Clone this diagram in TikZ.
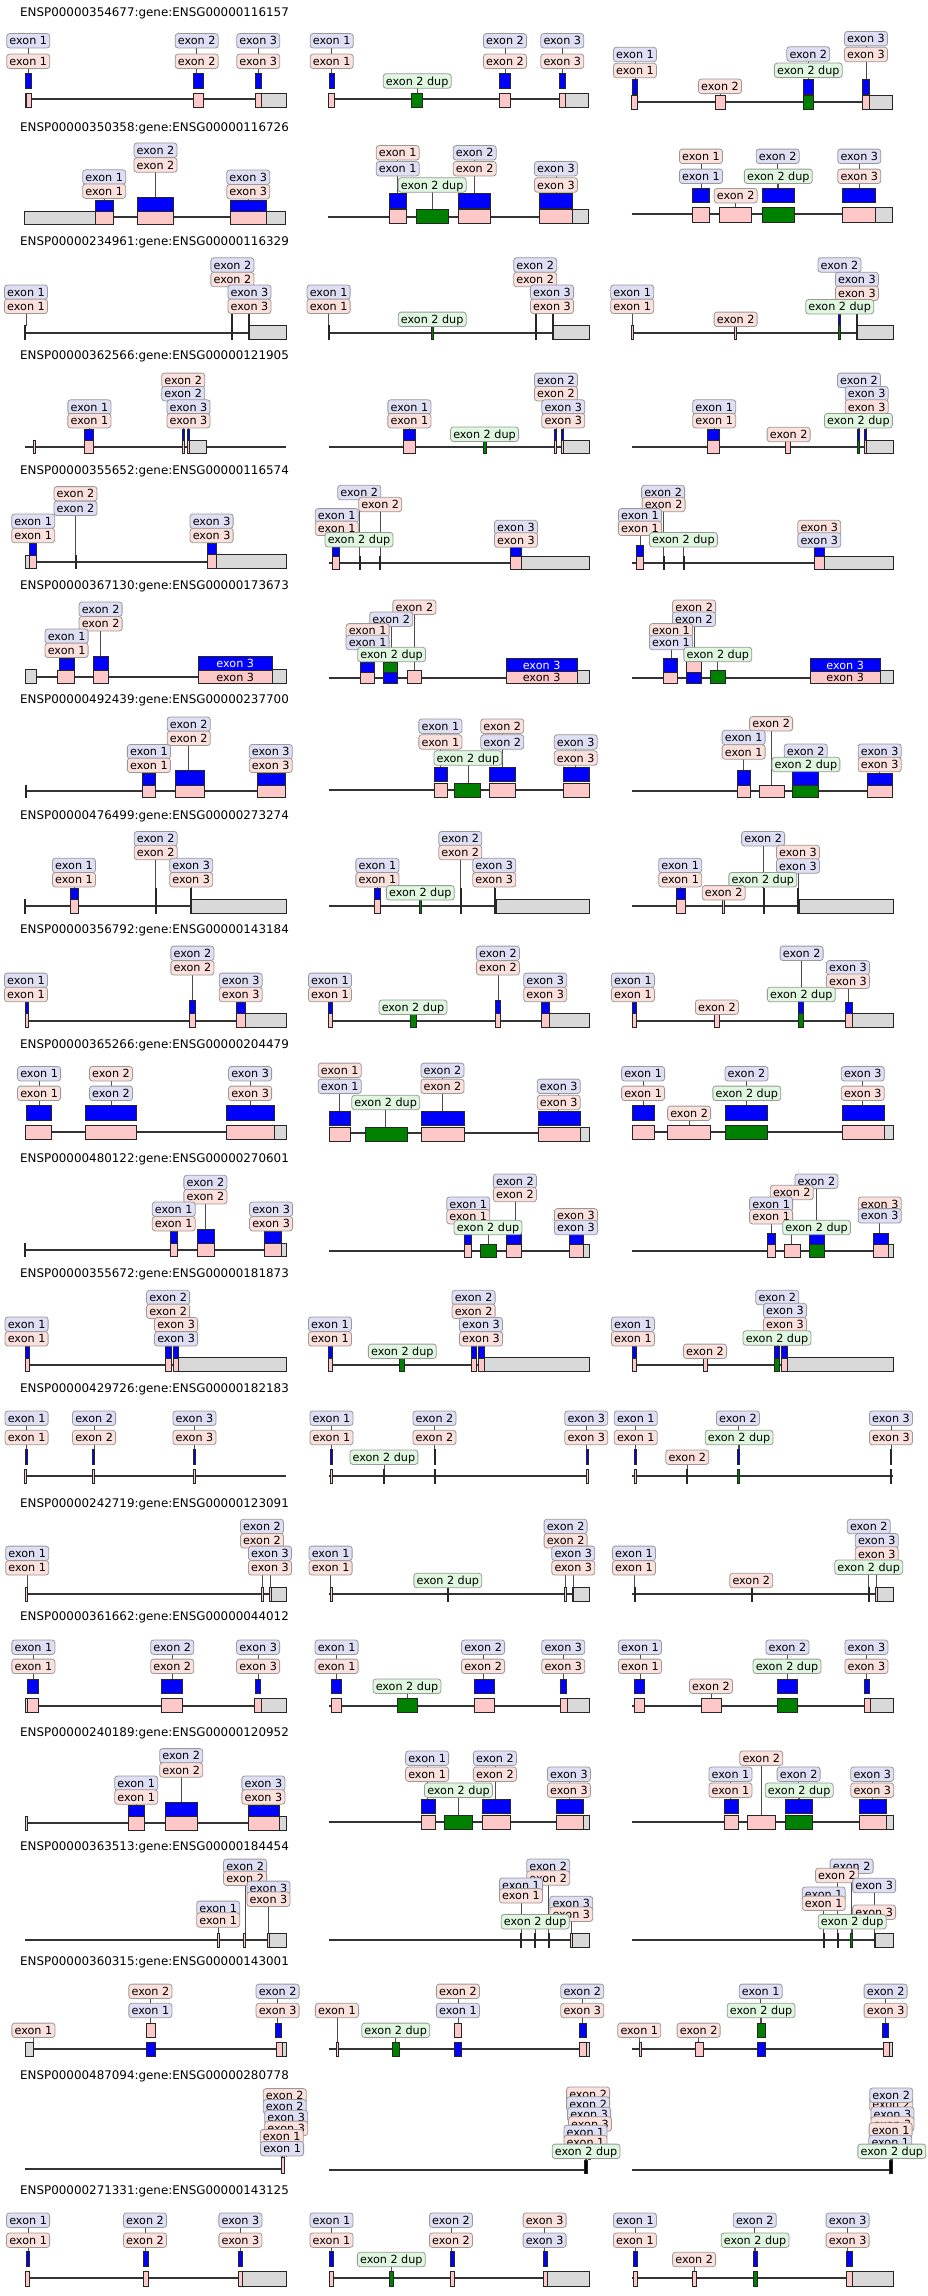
\documentclass[tikz,border=0pt]{standalone}
\usepackage{fontspec}
\setmainfont{DejaVu Sans}
\definecolor{labB}{HTML}{DEDEF5}
\definecolor{labP}{HTML}{FCE0DC}
\definecolor{labG}{HTML}{DEF7DE}
\definecolor{labD}{HTML}{999999}
\definecolor{exP}{HTML}{FFC8C8}
\definecolor{exG}{HTML}{008000}
\definecolor{exB}{HTML}{0000FF}
\definecolor{exY}{HTML}{D9D9D9}
\tikzset{
 lab/.style={draw=labD, rounded corners=2.8pt, line width=0.8pt, inner xsep=2.7pt, inner ysep=3.1pt, text height=8.2pt, text depth=0pt, font=\fontsize{11.2}{13}\selectfont},
 labb/.style={lab, fill=labB},
 labp/.style={lab, fill=labP},
 labg/.style={lab, fill=labG},
 conn/.style={draw=black!70, line width=0.7pt},
 intr/.style={draw=black!80, line width=1.8pt},
 bxs/.style={draw=black!85, line width=0.8pt},
 pk/.style={bxs, fill=exP},
 bl/.style={bxs, fill=exB},
 gn/.style={bxs, fill=exG},
 gy/.style={bxs, fill=exY},
 bk/.style={bxs, fill=black},
 ttl/.style={anchor=west, inner sep=0pt, font=\fontsize{11.9}{14}\selectfont},
 intxt/.style={inner sep=0pt, font=\fontsize{11.2}{13}\selectfont}
}
\newcounter{lbc}
\newcounter{ttc}
\newif\ifbgp
\newcommand\xLB[5]{\stepcounter{lbc}\ifbgp\coordinate (l\arabic{lbc}) at (#2,#3);\coordinate (t\arabic{lbc}) at (#2,#5);\draw[conn] (l\arabic{lbc}) -- (t\arabic{lbc});\else\node[lab#1] (l\arabic{lbc}) at (#2,#3) {exon #4};\fi}
\newcommand\xIN[3]{\ifbgp\draw[intr] (#1,#3) -- (#2,#3);\fi}
\newcommand\xPK[4]{\ifbgp\else\draw[pk] (#1,#3) rectangle (#2,#4);\fi}
\newcommand\xBL[4]{\ifbgp\else\draw[bl] (#1,#3) rectangle (#2,#4);\fi}
\newcommand\xGN[4]{\ifbgp\else\draw[gn] (#1,#3) rectangle (#2,#4);\fi}
\newcommand\xGY[4]{\ifbgp\else\draw[gy] (#1,#3) rectangle (#2,#4);\fi}
\newcommand\xBK[4]{\ifbgp\else\draw[bk] (#1,#3) rectangle (#2,#4);\fi}
\newcommand\xTT[2]{\ifbgp\else\stepcounter{ttc}\node[ttl] (h\arabic{ttc}) at (20,#1) {#2};\fi}
\newcommand\xIT[4]{\ifbgp\else\node[intxt, text=#4] (#1) at (#2,#3) {exon 3};\fi}
\newcommand\allrows{%
% ---------- Row 1
\xTT{13.3}{ENSP00000354677:gene:ENSG00000116157}
\xIN{25}{262}{99.3}
\xGY{25}{26.5}{93.3}{107.3}\xPK{26.5}{31.7}{93.3}{107.3}\xBL{25.7}{31}{73.3}{88.3}
\xPK{193.3}{203.3}{93.3}{107.3}\xBL{193.3}{203.3}{73.3}{88.3}
\xPK{255}{261.7}{93.3}{107.3}\xGY{261.7}{286}{93.3}{107.3}\xBL{255}{261.7}{73.3}{88.3}
\xLB{b}{28.3}{40.8}{1}{73.3}\xLB{p}{28.3}{61.3}{1}{73.3}
\xLB{b}{196.7}{40.8}{2}{73.3}\xLB{p}{196.7}{61.3}{2}{73.3}
\xLB{b}{258.3}{40.8}{3}{73.3}\xLB{p}{258.3}{61.3}{3}{73.3}
\xIN{328.3}{566}{99.3}
\xPK{328.3}{334.3}{93.3}{107.3}\xBL{329}{334.3}{73.3}{88.3}
\xGN{411.7}{422.3}{93.3}{107.3}
\xPK{499.3}{510}{93.3}{107.3}\xBL{499.3}{510}{73.3}{88.3}
\xPK{559.3}{565.7}{93.3}{107.3}\xGY{565.7}{588.7}{93.3}{107.3}\xBL{559.3}{565.7}{73.3}{88.3}
\xLB{b}{331.7}{40.8}{1}{73.3}\xLB{p}{331.7}{61.3}{1}{73.3}
\xLB{b}{505}{40.8}{2}{73.3}\xLB{p}{505}{61.3}{2}{73.3}
\xLB{b}{562.3}{40.8}{3}{73.3}\xLB{p}{562.3}{61.3}{3}{73.3}
\xLB{g}{417.2}{81}{2 dup}{93.3}
\xIN{631.7}{863}{101.7}
\xPK{631.7}{637.7}{95.3}{109.3}\xBL{632.3}{637.7}{79}{94}
\xPK{715}{725}{95.3}{109.3}
\xGN{803.3}{813.3}{95.3}{109.3}\xBL{803.3}{813.3}{79}{94}
\xPK{862.7}{869}{95.3}{109.3}\xGY{869}{892.7}{95.3}{109.3}\xBL{862.7}{869}{79}{94}
\xLB{b}{635}{54.5}{1}{79}\xLB{p}{635}{70.5}{1}{79}
\xLB{p}{720}{86.3}{2}{95.3}
\xLB{b}{808.3}{54}{2}{79}\xLB{g}{808.3}{70.3}{2 dup}{79}
\xLB{b}{866}{38.7}{3}{79}\xLB{p}{866}{54.5}{3}{79}
% ---------- Row 2
\xTT{128}{ENSP00000350358:gene:ENSG00000116726}
\xIN{24.3}{285.7}{217.3}
\xGY{24.3}{95.7}{211}{224}\xPK{95.7}{113.3}{211}{224}\xBL{95.7}{113.3}{200}{211}
\xPK{137.7}{173.3}{211}{224}\xBL{137.7}{173.3}{197}{211}
\xPK{230}{266.7}{211}{224}\xGY{266.7}{285.7}{211}{224}\xBL{230}{266.7}{200}{211}
\xLB{b}{104.2}{177}{1}{200}\xLB{p}{104.2}{191.2}{1}{200}
\xLB{b}{155.5}{150.2}{2}{197}\xLB{p}{155.5}{165}{2}{197}
\xLB{b}{248.3}{177.2}{3}{200}\xLB{p}{248.3}{191.7}{3}{200}
\xIN{328.3}{588.7}{216.7}
\xPK{389.3}{406}{209.3}{223.7}\xBL{389.3}{406}{193.7}{208.3}
\xGN{416}{448.3}{209.3}{223.7}
\xPK{458.7}{490.7}{209.3}{223.7}\xBL{458.7}{490.7}{193.7}{208.3}
\xPK{539.3}{572.7}{209.3}{223.7}\xGY{572.7}{588.7}{209.3}{223.7}\xBL{539.3}{572.7}{193.7}{208.3}
\xLB{p}{397.7}{152.8}{1}{193.7}\xLB{b}{397.7}{168.7}{1}{193.7}
\xLB{b}{474.7}{152.8}{2}{193.7}\xLB{p}{474.7}{168.7}{2}{193.7}
\xLB{b}{556}{168.7}{3}{193.7}\xLB{p}{556}{185}{3}{193.7}
\xLB{g}{432.2}{185}{2 dup}{209.3}
\xIN{631.7}{892.7}{214.3}
\xPK{692.7}{709}{207.7}{222.3}\xBL{692.7}{709}{188.3}{202.3}
\xPK{719.3}{751.7}{207.7}{222.3}
\xGN{762.3}{794}{207.7}{222.3}\xBL{762.3}{794}{188.3}{202.3}
\xPK{842.7}{875.7}{207.7}{222.3}\xGY{875.7}{892.7}{207.7}{222.3}\xBL{842.7}{875.7}{188.3}{202.3}
\xLB{p}{701}{156.3}{1}{188.3}\xLB{b}{701}{176.3}{1}{188.3}
\xLB{b}{777.7}{156.3}{2}{188.3}\xLB{g}{778.3}{176.3}{2 dup}{188.3}
\xLB{p}{735.7}{195.7}{2}{207.7}
\xLB{b}{859.3}{156.3}{3}{188.3}\xLB{p}{859.3}{176.3}{3}{188.3}
% ---------- Row 3
\xTT{242.7}{ENSP00000234961:gene:ENSG00000116329}
\xIN{24.9}{286}{332.7}
\xPK{24.2}{25.6}{325.7}{339.7}
\xPK{231.3}{232.7}{325.7}{339.7}\xBL{231.3}{232.7}{314.7}{325.7}
\xPK{248.5}{249.8}{325.7}{339.7}\xGY{249.8}{286}{325.7}{339.7}\xBL{248.5}{249.8}{314.7}{325.7}
\xLB{b}{26}{292.2}{1}{325.7}\xLB{p}{26}{306.3}{1}{325.7}
\xLB{b}{232.4}{265}{2}{314.7}\xLB{p}{232.4}{279.5}{2}{314.7}
\xLB{b}{249.5}{292.2}{3}{314.7}\xLB{p}{249.5}{306.3}{3}{314.7}
\xIN{328.6}{589}{332.7}
\xPK{328.3}{329.7}{325.7}{339.7}
\xGN{431.5}{433}{325.7}{339.7}
\xPK{535.1}{536.5}{325.7}{339.7}\xBL{535.1}{536.5}{314.7}{325.7}
\xPK{552.3}{553.7}{325.7}{339.7}\xGY{553.7}{589}{325.7}{339.7}\xBL{552.3}{553.7}{314.7}{325.7}
\xLB{b}{328.6}{292.2}{1}{325.7}\xLB{p}{328.6}{306.3}{1}{325.7}
\xLB{b}{535.2}{265}{2}{314.7}\xLB{p}{535.2}{279.5}{2}{314.7}
\xLB{b}{552}{292.2}{3}{314.7}\xLB{p}{552}{306.3}{3}{314.7}
\xLB{g}{432.2}{319.3}{2 dup}{325.7}
\xIN{632.2}{893}{332.7}
\xPK{631.8}{633.2}{325.7}{339.7}
\xPK{734.6}{736}{325.7}{339.7}
\xGN{838.8}{840.2}{325.7}{339.7}\xBL{838.8}{840.2}{314.7}{325.7}
\xPK{855.9}{857.3}{325.7}{339.7}\xGY{857.3}{893}{325.7}{339.7}\xBL{855.9}{857.3}{314.7}{325.7}
\xLB{b}{632.2}{292.2}{1}{325.7}\xLB{p}{632.2}{306.3}{1}{325.7}
\xLB{p}{735.6}{319.3}{2}{325.7}
\xLB{b}{839.5}{265}{2}{314.7}
\xLB{b}{856.9}{279.5}{3}{314.7}\xLB{p}{856.9}{293.3}{3}{314.7}
\xLB{g}{839.7}{306.7}{2 dup}{314.7}
% ---------- Row 4
\xTT{356.7}{ENSP00000362566:gene:ENSG00000121905}
\xIN{24.9}{286}{446.7}
\xPK{33.6}{35}{440}{453.3}
\xPK{84.7}{93.5}{440}{453.3}\xBL{84.7}{93.5}{429}{440}
\xPK{182.8}{184.2}{440}{453.3}\xBL{182.8}{184.2}{429}{440}
\xPK{187.6}{189}{440}{453.3}\xGY{189}{206}{440}{453.3}\xBL{187.6}{189}{429}{440}
\xLB{b}{89.4}{407}{1}{429}\xLB{p}{89.4}{420.7}{1}{429}
\xLB{p}{183.2}{380.3}{2}{429}\xLB{b}{183.2}{393.7}{2}{429}
\xLB{b}{188.5}{407}{3}{429}\xLB{p}{188.5}{420.7}{3}{429}
\xIN{328.6}{589}{446.7}
\xPK{403.7}{415.6}{440}{453.3}\xBL{403.7}{415.6}{429}{440}
\xGN{483}{486}{440}{453.3}
\xPK{554.6}{556}{440}{453.3}\xBL{554.6}{556}{429}{440}
\xPK{561.7}{563.1}{440}{453.3}\xGY{563.1}{589}{440}{453.3}\xBL{561.7}{563.1}{429}{440}
\xLB{b}{409.4}{407}{1}{429}\xLB{p}{409.4}{420.7}{1}{429}
\xLB{g}{484.5}{434.2}{2 dup}{440}
\xLB{b}{556}{380.3}{2}{429}\xLB{p}{556}{393.7}{2}{429}
\xLB{b}{563.3}{407}{3}{429}\xLB{p}{563.3}{420.7}{3}{429}
\xIN{632.2}{893}{446.7}
\xPK{707.4}{719.3}{440}{453.3}\xBL{707.4}{719.3}{429}{440}
\xPK{785.6}{790.3}{440}{453.3}
\xGN{857.7}{859.1}{440}{453.3}\xBL{857.7}{859.1}{429}{440}
\xPK{864.8}{866.2}{440}{453.3}\xGY{866.2}{893}{440}{453.3}\xBL{864.8}{866.2}{429}{440}
\xLB{b}{714.2}{407}{1}{429}\xLB{p}{714.2}{420.7}{1}{429}
\xLB{p}{788.6}{434.5}{2}{440}
\xLB{b}{859}{380.3}{2}{429}
\xLB{b}{866.7}{393.7}{3}{429}\xLB{p}{866.7}{407}{3}{429}
\xLB{g}{858.4}{420.7}{2 dup}{429}
% ---------- Row 5
\xTT{471.7}{ENSP00000355652:gene:ENSG00000116574}
\xIN{24.9}{286}{561.7}
\xGY{24.9}{29.6}{555}{568.3}\xPK{29.6}{36.7}{555}{568.3}\xBL{29.6}{36.7}{543.3}{555}
\xPK{75.1}{76.5}{555}{568.3}
\xPK{207.2}{216.7}{554.3}{568.3}\xGY{216.7}{286}{554.3}{568.3}\xBL{207.2}{216.7}{543.3}{554.3}
\xLB{b}{33.2}{521.2}{1}{543.3}\xLB{p}{33.2}{535.5}{1}{543.3}
\xLB{p}{75.5}{493.8}{2}{555}\xLB{b}{75.5}{508.3}{2}{555}
\xLB{b}{211.6}{521.2}{3}{543.3}\xLB{p}{211.6}{535.5}{3}{543.3}
\xIN{328.6}{589}{562.7}
\xPK{332.7}{339.8}{556}{569.5}\xBL{332.7}{339.8}{545}{556}
\xGN{359.3}{360.7}{556}{569.5}
\xPK{379.3}{380.7}{556}{569.5}
\xPK{510.3}{521}{556}{569.5}\xGY{521}{589}{556}{569.5}\xBL{510.3}{521}{545}{556}
\xLB{b}{359.3}{492.5}{2}{556}\xLB{p}{380.3}{504.5}{2}{556}
\xLB{b}{336.8}{515.8}{1}{545}\xLB{p}{336.8}{528.3}{1}{545}
\xLB{g}{359}{539.7}{2 dup}{556}
\xLB{b}{516}{527.5}{3}{545}\xLB{p}{516}{540}{3}{545}
\xIN{632.2}{893}{562.7}
\xPK{636.4}{643.5}{556}{569.5}\xBL{636.4}{643.5}{545}{556}
\xPK{662.9}{664.3}{556}{569.5}
\xGN{683.1}{684.5}{556}{569.5}
\xPK{814}{824.7}{556}{569.5}\xGY{824.7}{893}{556}{569.5}\xBL{814}{824.7}{545}{556}
\xLB{b}{663.1}{492.5}{2}{556}\xLB{p}{663.6}{504.5}{2}{556}
\xLB{b}{640}{515.8}{1}{545}\xLB{p}{640}{528.3}{1}{545}
\xLB{g}{683.4}{539.7}{2 dup}{556}
\xLB{p}{819.3}{527.5}{3}{545}\xLB{b}{819.3}{540}{3}{545}
% ---------- Row 6
\xTT{586.7}{ENSP00000367130:gene:ENSG00000173673}
\xIN{24.9}{286}{676.7}
\xGY{24.9}{36.7}{669.3}{683.3}
\xPK{57.4}{74.6}{670}{683.3}\xBL{59.2}{74.6}{658.3}{670}
\xPK{93}{108.3}{670}{683.3}\xBL{93}{108.3}{656}{670}
\xPK{198.3}{272.3}{670}{683.3}\xGY{272.3}{286}{669.3}{683.3}\xBL{198.3}{272.3}{656}{670}
\xIT{in1}{235.3}{663}{white}\xIT{in2}{235.3}{677}{black}
\xLB{b}{100.6}{609.2}{2}{656}\xLB{p}{100.6}{623.7}{2}{656}
\xLB{b}{66.6}{636.2}{1}{658.3}\xLB{p}{66.6}{650.3}{1}{658.3}
\xIN{328.6}{589}{677.7}
\xPK{360}{374.7}{672.7}{683.3}\xBL{360}{374.7}{662.7}{672.7}
\xGN{383.6}{397.8}{662.7}{672.7}\xBL{383.6}{397.8}{672.7}{683.3}
\xPK{407.3}{421.5}{670.7}{683.3}
\xPK{506}{577.2}{671.7}{683.3}\xBL{506}{577.2}{658.7}{671.7}\xGY{577.2}{589}{670}{683.3}
\xIT{in3}{541.6}{665.2}{white}\xIT{in4}{541.6}{677.8}{black}
\xLB{p}{414.4}{607.2}{2}{670.7}
\xLB{b}{391.2}{619.2}{2}{662.7}
\xLB{p}{367.6}{630.8}{1}{662.7}\xLB{b}{367.6}{642.5}{1}{662.7}
\xLB{g}{391.6}{654.5}{2 dup}{662.7}
\xIN{632.2}{893}{677.7}
\xPK{663}{677.8}{672.7}{683.3}\xBL{663}{677.8}{658.3}{672.7}
\xPK{686.7}{701.5}{661.7}{672.7}\xBL{686.7}{701.5}{672.7}{683.3}
\xGN{710.4}{725.2}{670}{683.3}
\xPK{809.9}{880.3}{671.7}{683.3}\xBL{809.9}{880.3}{658.7}{671.7}\xGY{880.3}{893}{670}{683.3}
\xIT{in5}{845.1}{665.2}{white}\xIT{in6}{845.1}{677.8}{black}
\xLB{p}{694.1}{607.2}{2}{661.7}
\xLB{b}{694}{619.2}{2}{661.7}
\xLB{p}{671}{630.8}{1}{658.3}\xLB{b}{671}{642.5}{1}{658.3}
\xLB{g}{717.8}{654.5}{2 dup}{670}
% ---------- Row 7
\xTT{700.7}{ENSP00000492439:gene:ENSG00000237700}
\xIN{24.9}{286}{790.7}
\xPK{24.9}{26.6}{785}{797.3}
\xPK{142}{155.7}{785}{797.7}\xBL{142}{155.7}{773.3}{785}
\xPK{175.8}{204.2}{785}{797.7}\xBL{175.8}{204.2}{770.7}{785}
\xPK{257.5}{285.3}{785}{797.7}\xBL{257.5}{285.3}{773.3}{785}
\xLB{b}{188.8}{724.2}{2}{770.7}\xLB{p}{188.8}{738.3}{2}{770.7}
\xLB{b}{148.9}{751.7}{1}{773.3}\xLB{p}{148.9}{765.3}{1}{773.3}
\xLB{b}{270.8}{751.7}{3}{773.3}\xLB{p}{270.8}{765.3}{3}{773.3}
\xIN{328.6}{589}{790}
\xPK{433.9}{447}{783.3}{797.3}\xBL{433.9}{447}{767.3}{781.7}
\xGN{454.7}{480.7}{783.3}{797.3}
\xPK{489.6}{515}{783.3}{797.3}\xBL{489.6}{515}{767.3}{781.7}
\xPK{563.6}{589}{783.3}{797.3}\xBL{563.6}{589}{767.3}{781.7}
\xLB{b}{440.4}{726.2}{1}{767.3}\xLB{p}{440.4}{742}{1}{767.3}
\xLB{p}{502.3}{726.2}{2}{767.3}\xLB{b}{502.3}{742}{2}{767.3}
\xLB{g}{467.9}{758}{2 dup}{783.3}
\xLB{b}{575.7}{742}{3}{767.3}\xLB{p}{575.7}{758}{3}{767.3}
\xIN{632.2}{893}{790.7}
\xPK{737}{750}{785}{797.7}\xBL{737}{750}{770.7}{785}
\xPK{759}{784.4}{785}{797.7}
\xGN{792}{818.7}{785}{797.7}\xBL{792}{818.7}{770.7}{785}
\xPK{867.3}{892}{785}{797.7}\xBL{867.3}{892}{773.3}{785}
\xLB{p}{771.1}{723.8}{2}{785}
\xLB{b}{743.6}{737.5}{1}{770.7}\xLB{p}{743.6}{752}{1}{770.7}
\xLB{b}{805.7}{751.2}{2}{770.7}\xLB{g}{805.9}{764.5}{2 dup}{770.7}
\xLB{b}{879.7}{751.2}{3}{773.3}\xLB{p}{879.7}{764.5}{3}{773.3}
% ---------- Row 8
\xTT{816}{ENSP00000476499:gene:ENSG00000273274}
\xIN{24.9}{286}{906}
\xPK{24.2}{25.6}{899.3}{913}
\xPK{69.9}{78.1}{899.3}{913}\xBL{69.9}{78.1}{888.3}{899.3}
\xPK{155}{156.4}{899.3}{913}\xBL{155}{156.4}{888.3}{899.3}
\xPK{189.9}{191.3}{899.3}{913}\xBL{189.9}{191.3}{888.3}{899.3}\xGY{191.5}{286}{899.3}{913}
\xLB{b}{74}{865.5}{1}{888.3}\xLB{p}{74}{879.7}{1}{888.3}
\xLB{b}{155.7}{838.7}{2}{888.3}\xLB{p}{155.7}{852.5}{2}{888.3}
\xLB{b}{191.2}{865.5}{3}{888.3}\xLB{p}{191.2}{879.7}{3}{888.3}
\xIN{328.6}{589}{906}
\xPK{374}{380}{899.3}{913}\xBL{374}{380}{888.3}{899.3}
\xGN{419.6}{421}{899.3}{913}
\xPK{459.9}{461.3}{899.3}{913}\xBL{459.9}{461.3}{888.3}{899.3}
\xPK{494.3}{495.7}{899.3}{913}\xBL{494.3}{495.7}{888.3}{899.3}\xGY{496}{589}{899.3}{913}
\xLB{b}{377.4}{865.5}{1}{888.3}\xLB{p}{377.4}{879.7}{1}{888.3}
\xLB{b}{460.3}{838.7}{2}{888.3}\xLB{p}{460.3}{852.5}{2}{888.3}
\xLB{b}{494.3}{865.5}{3}{888.3}\xLB{p}{494.3}{879.7}{3}{888.3}
\xLB{g}{420.3}{892.8}{2 dup}{899.3}
\xIN{632.2}{893}{906}
\xPK{676.6}{684.9}{899.3}{913}\xBL{676.6}{684.9}{888.3}{899.3}
\xPK{722.7}{724.1}{899.3}{913}
\xGN{763}{764.4}{899.3}{913}\xBL{763}{764.4}{888.3}{899.3}
\xPK{797.3}{798.7}{899.3}{913}\xBL{797.3}{798.7}{888.3}{899.3}\xGY{799.2}{893}{899.3}{913}
\xLB{b}{680.2}{865.5}{1}{888.3}\xLB{p}{680.2}{879.7}{1}{888.3}
\xLB{b}{763.1}{838.7}{2}{888.3}
\xLB{p}{798}{852.5}{3}{888.3}\xLB{b}{798}{866}{3}{888.3}
\xLB{g}{762.8}{879.7}{2 dup}{888.3}
\xLB{p}{723.7}{892.8}{2}{899.3}
% ---------- Row 9
\xTT{930}{ENSP00000356792:gene:ENSG00000143184}
\xIN{24.9}{286}{1020.7}
\xPK{24.9}{28.4}{1013.3}{1027.3}\xBL{24.9}{28.4}{1002.3}{1013.3}
\xPK{189.4}{195.4}{1013.3}{1027.3}\xBL{189.4}{195.4}{1000}{1013.3}
\xPK{236.8}{245.1}{1013.3}{1027.3}\xGY{245.1}{286}{1013.3}{1027.3}\xBL{236.8}{245.1}{1002.3}{1013.3}
\xLB{b}{26}{980.3}{1}{1002.3}\xLB{p}{26}{994.5}{1}{1002.3}
\xLB{b}{192.4}{953.3}{2}{1000}\xLB{p}{192.4}{967.8}{2}{1000}
\xLB{b}{240.7}{980.3}{3}{1002.3}\xLB{p}{240.7}{994.5}{3}{1002.3}
\xIN{328.6}{589}{1020.7}
\xPK{328.6}{332.7}{1013.3}{1027.3}\xBL{328.6}{332.7}{1002.3}{1013.3}
\xGN{410.3}{416.2}{1013.3}{1027.3}
\xPK{495.5}{500.2}{1013.3}{1027.3}\xBL{495.5}{500.2}{1000}{1013.3}
\xPK{541.7}{549.4}{1013.3}{1027.3}\xGY{549.4}{589}{1013.3}{1027.3}\xBL{541.7}{549.4}{1002.3}{1013.3}
\xLB{b}{330}{980.3}{1}{1002.3}\xLB{p}{330}{994.5}{1}{1002.3}
\xLB{b}{497.9}{953.3}{2}{1000}\xLB{p}{497.9}{967.8}{2}{1000}
\xLB{b}{545.2}{980.3}{3}{1002.3}\xLB{p}{545.2}{994.5}{3}{1002.3}
\xLB{g}{413}{1007.2}{2 dup}{1013.3}
\xIN{632.2}{893}{1020.7}
\xPK{632.2}{636.4}{1013.3}{1027.3}\xBL{632.2}{636.4}{1002.3}{1013.3}
\xPK{714.5}{719.3}{1013.3}{1027.3}
\xGN{798}{803.3}{1013.3}{1027.3}\xBL{798}{803.3}{1000}{1013.3}
\xPK{845.4}{852.5}{1013.3}{1027.3}\xGY{852.5}{893}{1013.3}{1027.3}\xBL{845.4}{852.5}{1002.3}{1013.3}
\xLB{b}{632.9}{980.3}{1}{1002.3}\xLB{p}{632.9}{994.5}{1}{1002.3}
\xLB{b}{801.6}{953.3}{2}{1000}
\xLB{b}{848}{967.8}{3}{1002.3}\xLB{p}{848}{981.2}{3}{1002.3}
\xLB{g}{801.3}{994.5}{2 dup}{1000}
\xLB{p}{716.9}{1007.2}{2}{1013.3}
% ---------- Row 10
\xTT{1045}{ENSP00000365266:gene:ENSG00000204479}
\xIN{24.9}{286}{1131.7}
\xPK{24.9}{51.5}{1125.7}{1139.3}\xBL{26.6}{51.5}{1105.7}{1120}
\xPK{85.8}{136.2}{1125.7}{1139.3}\xBL{85.8}{136.2}{1105.7}{1120}
\xPK{226.1}{274.1}{1125.7}{1139.3}\xGY{274.1}{286}{1125.7}{1139.3}\xBL{226.1}{274.1}{1105.7}{1120}
\xLB{b}{39.1}{1073.7}{1}{1105.7}\xLB{p}{39.1}{1093.3}{1}{1105.7}
\xLB{p}{111}{1073.7}{2}{1105.7}\xLB{b}{111}{1093.3}{2}{1105.7}
\xLB{b}{250.1}{1073.7}{3}{1105.7}\xLB{p}{250.1}{1093.3}{3}{1105.7}
\xIN{328.6}{589}{1133.3}
\xPK{329.7}{350.5}{1127.3}{1141.7}\xBL{329.7}{350.5}{1111}{1125.7}
\xGN{365.3}{407.3}{1127.3}{1141.7}
\xPK{421.5}{464.7}{1127.3}{1141.7}\xBL{421.5}{464.7}{1111}{1125.7}
\xPK{538.7}{580.2}{1127.3}{1141.7}\xGY{580.2}{589}{1127.3}{1141.7}\xBL{538.7}{580.2}{1111}{1125.7}
\xLB{p}{339.8}{1070.3}{1}{1111}\xLB{b}{339.8}{1086.3}{1}{1111}
\xLB{b}{442.5}{1070.3}{2}{1111}\xLB{p}{442.5}{1086.3}{2}{1111}
\xLB{g}{385.7}{1102.5}{2 dup}{1127.3}
\xLB{b}{558.8}{1086.3}{3}{1111}\xLB{p}{558.8}{1102.5}{3}{1111}
\xIN{632.2}{893}{1131.7}
\xPK{632.2}{654.2}{1125.7}{1139.3}\xBL{632.2}{654.2}{1105.7}{1120}
\xPK{667.8}{710.4}{1125.7}{1139.3}
\xGN{725.2}{767.8}{1125.7}{1139.3}\xBL{725.2}{767.8}{1105.7}{1120}
\xPK{842.4}{883.9}{1125.7}{1139.3}\xGY{883.9}{893}{1125.7}{1139.3}\xBL{842.4}{883.9}{1105.7}{1120}
\xLB{b}{643.1}{1073.7}{1}{1105.7}\xLB{p}{643.1}{1093.3}{1}{1105.7}
\xLB{b}{746.5}{1073.7}{2}{1105.7}\xLB{g}{746.8}{1093.3}{2 dup}{1105.7}
\xLB{p}{689.1}{1113.3}{2}{1125.7}
\xLB{b}{862.8}{1073.7}{3}{1105.7}\xLB{p}{862.8}{1093.3}{3}{1105.7}
% ---------- Row 11
\xTT{1159.3}{ENSP00000480122:gene:ENSG00000270601}
\xIN{24.9}{286}{1250}
\xPK{24.2}{25.6}{1243.3}{1256.7}
\xPK{169.9}{177.6}{1243.3}{1256.7}\xBL{169.9}{177.6}{1231.7}{1243.3}
\xPK{197.1}{214.3}{1243.3}{1256.7}\xBL{197.1}{214.3}{1229}{1243.3}
\xPK{264.6}{281.2}{1243.3}{1256.7}\xGY{281.2}{286}{1243.3}{1256.7}\xBL{264.6}{281.2}{1231.7}{1243.3}
\xLB{b}{205.4}{1182.5}{2}{1229}\xLB{p}{205.4}{1196.7}{2}{1229}
\xLB{b}{173.7}{1209.2}{1}{1231.7}\xLB{p}{173.7}{1223.7}{1}{1231.7}
\xLB{b}{271.1}{1209.2}{3}{1231.7}\xLB{p}{271.1}{1223.7}{3}{1231.7}
\xIN{328.6}{589}{1251}
\xPK{464.7}{471.8}{1244}{1257.7}\xBL{464.7}{471.8}{1233}{1244}
\xGN{480.7}{496.1}{1244}{1257.7}
\xPK{506.2}{521}{1244}{1257.7}\xBL{506.2}{521}{1233}{1244}
\xPK{569.5}{583.1}{1244}{1257.7}\xGY{583.1}{589}{1244}{1257.7}\xBL{569.5}{583.1}{1233}{1244}
\xLB{b}{514.9}{1181.2}{2}{1233}\xLB{p}{514.9}{1194.5}{2}{1233}
\xLB{b}{468.3}{1204.2}{1}{1233}\xLB{p}{468.3}{1216.7}{1}{1233}
\xLB{g}{488}{1227.5}{2 dup}{1244}
\xLB{p}{576}{1215.8}{3}{1233}\xLB{b}{576}{1227.5}{3}{1233}
\xIN{632.2}{893}{1251}
\xPK{767.8}{775.5}{1244}{1257.7}\xBL{767.8}{775.5}{1233}{1244}
\xPK{784.4}{800.4}{1244}{1257.7}
\xGN{809.3}{824.7}{1244}{1257.7}\xBL{809.3}{824.7}{1233}{1244}
\xPK{873.2}{888}{1244}{1257.7}\xGY{888}{893}{1244}{1257.7}\xBL{873.2}{888}{1233}{1244}
\xLB{b}{816.4}{1181.2}{2}{1233}
\xLB{p}{791.8}{1192.5}{2}{1244}
\xLB{b}{771.1}{1204.2}{1}{1233}\xLB{p}{771.1}{1216.7}{1}{1233}
\xLB{g}{816.6}{1227.5}{2 dup}{1233}
\xLB{p}{879.7}{1204.2}{3}{1233}\xLB{b}{879.7}{1215.8}{3}{1233}
% ---------- Row 12
\xTT{1274}{ENSP00000355672:gene:ENSG00000181873}
\xIN{24.9}{286}{1365}
\xPK{24.9}{29.6}{1358.3}{1371.7}\xBL{24.9}{29.6}{1346.7}{1358.3}
\xPK{165.8}{171.7}{1358.3}{1371.7}\xBL{165.8}{171.7}{1346.7}{1358.3}
\xPK{172.9}{178.8}{1358.3}{1371.7}\xGY{178.8}{286}{1357.3}{1371.7}\xBL{172.9}{178.8}{1346.7}{1358.3}
\xLB{b}{26.6}{1324.2}{1}{1346.7}\xLB{p}{26.6}{1338.8}{1}{1346.7}
\xLB{b}{168.1}{1297.5}{2}{1346.7}\xLB{p}{168.1}{1311.3}{2}{1346.7}
\xLB{p}{176.1}{1324.7}{3}{1346.7}\xLB{b}{176.1}{1338.8}{3}{1346.7}
\xIN{328.6}{589}{1365}
\xPK{328.6}{332.7}{1358.3}{1371.7}\xBL{328.6}{332.7}{1346.7}{1358.3}
\xGN{399.6}{404.3}{1358.3}{1371.7}
\xPK{471.8}{476.6}{1358.3}{1371.7}\xBL{471.8}{476.6}{1346.7}{1358.3}
\xPK{478.3}{484.3}{1358.3}{1371.7}\xGY{484.3}{589}{1357.3}{1371.7}\xBL{478.3}{484.3}{1346.7}{1358.3}
\xLB{b}{330}{1324.2}{1}{1346.7}\xLB{p}{330}{1338.8}{1}{1346.7}
\xLB{b}{473.6}{1297.5}{2}{1346.7}\xLB{p}{473.6}{1311.3}{2}{1346.7}
\xLB{b}{481}{1324.7}{3}{1346.7}\xLB{p}{481}{1338.8}{3}{1346.7}
\xLB{g}{402.3}{1351.3}{2 dup}{1358.3}
\xIN{632.2}{893}{1365}
\xPK{632.2}{636.4}{1358.3}{1371.7}\xBL{632.2}{636.4}{1346.7}{1358.3}
\xPK{703.3}{707.4}{1358.3}{1371.7}
\xGN{774.3}{779.7}{1358.3}{1371.7}\xBL{774.3}{779.7}{1346.7}{1358.3}
\xPK{781.4}{787.4}{1358.3}{1371.7}\xGY{787.4}{893}{1357.3}{1371.7}\xBL{781.4}{787.4}{1346.7}{1358.3}
\xLB{b}{632.9}{1324.2}{1}{1346.7}\xLB{p}{632.9}{1338.8}{1}{1346.7}
\xLB{b}{777.3}{1297.5}{2}{1346.7}
\xLB{b}{785}{1310.5}{3}{1346.7}\xLB{p}{785}{1324.7}{3}{1346.7}
\xLB{g}{777}{1338}{2 dup}{1346.7}
\xLB{p}{705}{1351.3}{2}{1358.3}
% ---------- Row 13
\xTT{1389}{ENSP00000429726:gene:ENSG00000182183}
\xIN{24.9}{286}{1475.7}
\xPK{24.2}{26.6}{1469.3}{1483.3}\xBL{25.5}{27}{1449.3}{1464}
\xPK{92.8}{94.2}{1469.3}{1483.3}\xBL{92.8}{94.2}{1449.3}{1464}
\xPK{193.5}{194.9}{1469.3}{1483.3}\xBL{193.5}{194.9}{1449.3}{1464}
\xLB{b}{26.6}{1418.2}{1}{1449.3}\xLB{p}{26.6}{1437.5}{1}{1449.3}
\xLB{b}{94.1}{1418.2}{2}{1449.3}\xLB{p}{94.1}{1437.5}{2}{1449.3}
\xLB{b}{194.5}{1418.2}{3}{1449.3}\xLB{p}{194.5}{1437.5}{3}{1449.3}
\xIN{328.6}{589}{1475.7}
\xPK{330.8}{332.2}{1469.3}{1483.3}\xBL{330.8}{332.2}{1449.3}{1464}
\xGN{382.9}{384.3}{1469.3}{1483.3}
\xPK{434.4}{435.8}{1469.3}{1483.3}\xBL{434.4}{435.8}{1449.3}{1464}
\xPK{586.6}{588}{1469.3}{1483.3}\xBL{586.6}{588}{1449.3}{1464}
\xLB{b}{331.5}{1418.2}{1}{1449.3}\xLB{p}{331.5}{1437.5}{1}{1449.3}
\xLB{b}{434.5}{1418.2}{2}{1449.3}\xLB{p}{434.5}{1437.5}{2}{1449.3}
\xLB{b}{586.3}{1418.2}{3}{1449.3}\xLB{p}{586.3}{1437.5}{3}{1449.3}
\xLB{g}{383.9}{1457.2}{2 dup}{1469.3}
\xIN{632.2}{893}{1475.7}
\xPK{634.5}{635.9}{1469.3}{1483.3}\xBL{634.5}{635.9}{1449.3}{1464}
\xPK{686}{687.4}{1469.3}{1483.3}
\xGN{737.5}{738.9}{1469.3}{1483.3}\xBL{737.5}{738.9}{1449.3}{1464}
\xPK{890.2}{891.6}{1469.3}{1483.3}\xBL{890.2}{891.6}{1449.3}{1464}
\xLB{b}{635.8}{1418.2}{1}{1449.3}\xLB{p}{635.8}{1437.5}{1}{1449.3}
\xLB{b}{737.9}{1418.2}{2}{1449.3}\xLB{g}{739.1}{1437.5}{2 dup}{1449.3}
\xLB{p}{687.3}{1457.2}{2}{1469.3}
\xLB{b}{891}{1418.2}{3}{1449.3}\xLB{p}{891}{1437.5}{3}{1449.3}
% ---------- Row 14
\xTT{1504}{ENSP00000242719:gene:ENSG00000123091}
\xIN{24.9}{286}{1594}
\xPK{24.9}{27.8}{1587}{1601}
\xPK{261.6}{263}{1587}{1601}
\xPK{269.8}{271.2}{1587}{1601}\xGY{271.2}{286}{1587}{1601}
\xLB{b}{27.2}{1553.3}{1}{1587}\xLB{p}{27.2}{1567.8}{1}{1587}
\xLB{b}{262}{1526.5}{2}{1587}\xLB{p}{262}{1540.7}{2}{1587}
\xLB{b}{270}{1553.3}{3}{1587}\xLB{p}{270}{1567.8}{3}{1587}
\xIN{328.6}{589}{1594}
\xPK{330.8}{332.2}{1587}{1601}
\xGN{447.4}{448.8}{1587}{1601}
\xPK{564.7}{566.1}{1587}{1601}
\xPK{572.3}{573.7}{1587}{1601}\xGY{573.7}{589}{1587}{1601}
\xLB{b}{330.6}{1553.3}{1}{1587}\xLB{p}{330.6}{1567.8}{1}{1587}
\xLB{b}{565.6}{1526.5}{2}{1587}\xLB{p}{565.6}{1540.7}{2}{1587}
\xLB{b}{573.3}{1553.3}{3}{1587}\xLB{p}{573.3}{1567.8}{3}{1587}
\xLB{g}{447.8}{1580.5}{2 dup}{1587}
\xIN{632.2}{893}{1594}
\xPK{633.9}{635.3}{1587}{1601}
\xPK{751.1}{752.5}{1587}{1601}
\xGN{868.3}{869.7}{1587}{1601}
\xPK{875.5}{876.9}{1587}{1601}\xGY{876.9}{893}{1587}{1601}
\xLB{b}{634}{1553.3}{1}{1587}\xLB{p}{634}{1567.8}{1}{1587}
\xLB{b}{868.8}{1526.5}{2}{1587}
\xLB{b}{876.8}{1540.7}{3}{1587}\xLB{p}{876.8}{1554}{3}{1587}
\xLB{g}{868.7}{1567.2}{2 dup}{1587}
\xLB{p}{751.3}{1580.5}{2}{1587}
% ---------- Row 15
\xTT{1617.7}{ENSP00000361662:gene:ENSG00000044012}
\xIN{24.9}{286}{1705.7}
\xGY{24.9}{27.8}{1698.3}{1712.7}\xPK{27.8}{38.5}{1698.3}{1712.7}\xBL{27.8}{38.5}{1679}{1693.3}
\xPK{161.6}{182.3}{1698.3}{1712.7}\xBL{161.6}{182.3}{1679}{1693.3}
\xPK{254.6}{261.7}{1698.3}{1712.7}\xGY{261.7}{286}{1698.3}{1712.7}\xBL{255}{260.5}{1679}{1693.3}
\xLB{b}{33.4}{1647.2}{1}{1679}\xLB{p}{33.4}{1666.3}{1}{1679}
\xLB{b}{172.3}{1647.2}{2}{1679}\xLB{p}{172.3}{1666.3}{2}{1679}
\xLB{b}{258.1}{1647.2}{3}{1679}\xLB{p}{258.1}{1666.3}{3}{1679}
\xIN{328.6}{589}{1705.7}
\xPK{331.5}{341.6}{1698.3}{1712.7}\xBL{331.5}{341.6}{1679}{1693.3}
\xGN{397.8}{417.4}{1698.3}{1712.7}
\xPK{474.8}{494.3}{1698.3}{1712.7}\xBL{474.8}{494.3}{1679}{1693.3}
\xPK{560.6}{567.1}{1698.3}{1712.7}\xGY{567.1}{589}{1698.3}{1712.7}\xBL{560.6}{566}{1679}{1693.3}
\xLB{b}{336.6}{1647.2}{1}{1679}\xLB{p}{336.6}{1666.3}{1}{1679}
\xLB{b}{483.1}{1647.2}{2}{1679}\xLB{p}{483.1}{1666.3}{2}{1679}
\xLB{b}{563.3}{1647.2}{3}{1679}\xLB{p}{563.3}{1666.3}{3}{1679}
\xLB{g}{407}{1686.2}{2 dup}{1698.3}
\xIN{632.2}{893}{1705.7}
\xPK{634.6}{644.1}{1698.3}{1712.7}\xBL{634.6}{644.1}{1679}{1693.3}
\xPK{701.5}{721.1}{1698.3}{1712.7}
\xGN{777.3}{797.4}{1698.3}{1712.7}\xBL{777.3}{797.4}{1679}{1693.3}
\xPK{864.3}{870.2}{1698.3}{1712.7}\xGY{870.2}{893}{1698.3}{1712.7}\xBL{864.3}{869.5}{1679}{1693.3}
\xLB{b}{640}{1647.2}{1}{1679}\xLB{p}{640}{1666.3}{1}{1679}
\xLB{b}{787.4}{1647.2}{2}{1679}\xLB{g}{787}{1666.3}{2 dup}{1679}
\xLB{p}{711}{1686.2}{2}{1698.3}
\xLB{b}{866.4}{1647.2}{3}{1679}\xLB{p}{866.4}{1666.3}{3}{1679}
% ---------- Row 16
\xTT{1733.3}{ENSP00000240189:gene:ENSG00000120952}
\xIN{24.9}{286}{1822.7}
\xGY{24.9}{27.8}{1816.7}{1830}
\xPK{128.5}{143.9}{1816.7}{1830}\xBL{128.5}{143.9}{1805}{1816.7}
\xPK{165.8}{197.1}{1816.7}{1830}\xBL{165.8}{197.1}{1802.3}{1816.7}
\xPK{248.6}{279.4}{1816.7}{1830}\xGY{279.4}{286}{1816.7}{1830}\xBL{248.6}{279.4}{1805}{1816.7}
\xLB{b}{181.2}{1755.8}{2}{1802.3}\xLB{p}{181.2}{1770}{2}{1802.3}
\xLB{b}{136.2}{1783.2}{1}{1805}\xLB{p}{136.2}{1797}{1}{1805}
\xLB{b}{263.4}{1783.2}{3}{1805}\xLB{p}{263.4}{1797}{3}{1805}
\xIN{328.6}{589}{1821.7}
\xPK{421.5}{435.1}{1815}{1829.3}\xBL{421.5}{435.1}{1799}{1813.3}
\xGN{444}{472.4}{1815}{1829.3}
\xPK{482.5}{510.3}{1815}{1829.3}\xBL{482.5}{510.3}{1799}{1813.3}
\xPK{556.5}{583.1}{1815}{1829.3}\xGY{583.1}{589}{1815}{1829.3}\xBL{556.5}{583.1}{1799}{1813.3}
\xLB{b}{427.1}{1758.2}{1}{1799}\xLB{p}{427.1}{1774.2}{1}{1799}
\xLB{b}{494.9}{1758.2}{2}{1799}\xLB{p}{494.9}{1774.2}{2}{1799}
\xLB{b}{568.9}{1774.2}{3}{1799}\xLB{p}{568.9}{1790.2}{3}{1799}
\xLB{g}{458.5}{1790.2}{2 dup}{1815}
\xIN{632.2}{893}{1821.7}
\xPK{724}{738.2}{1815}{1829.3}\xBL{724}{738.2}{1799}{1813.3}
\xPK{747.7}{775.5}{1815}{1829.3}
\xGN{785.6}{812.8}{1815}{1829.3}\xBL{785.6}{812.8}{1799}{1813.3}
\xPK{859.6}{886.2}{1815}{1829.3}\xGY{886.2}{893}{1815}{1829.3}\xBL{859.6}{886.2}{1799}{1813.3}
\xLB{p}{761.3}{1758.2}{2}{1815}
\xLB{b}{730.5}{1774.2}{1}{1799}\xLB{p}{730.5}{1790.2}{1}{1799}
\xLB{b}{798.6}{1774.2}{2}{1799}\xLB{g}{799.2}{1790.2}{2 dup}{1799}
\xLB{b}{872.3}{1774.2}{3}{1799}\xLB{p}{872.3}{1790.2}{3}{1799}
% ---------- Row 17
\xTT{1847.7}{ENSP00000363513:gene:ENSG00000184454}
\xIN{24.9}{286}{1940}
\xPK{217.7}{219.1}{1933}{1947}
\xPK{243.8}{245.2}{1933}{1947}
\xPK{267.5}{268.9}{1933}{1947}\xGY{268.9}{286}{1933}{1947}
\xLB{b}{245.1}{1866.3}{2}{1933}\xLB{p}{245.1}{1878.3}{2}{1933}
\xLB{b}{268.5}{1888.3}{3}{1933}\xLB{p}{268.5}{1899.2}{3}{1933}
\xLB{b}{218.2}{1908.3}{1}{1933}\xLB{p}{218.2}{1920}{1}{1933}
\xIN{328.6}{589}{1940}
\xPK{520.3}{521.7}{1933}{1947}
\xGN{533.9}{535.3}{1933}{1947}
\xPK{548.1}{549.5}{1933}{1947}
\xPK{570.6}{572}{1933}{1947}\xGY{572}{589}{1933}{1947}
\xLB{b}{548.2}{1866.2}{2}{1933}\xLB{p}{548.2}{1878}{2}{1933}
\xLB{b}{521}{1885.2}{1}{1933}\xLB{p}{521}{1895.8}{1}{1933}
\xLB{b}{571.3}{1903.5}{3}{1933}\xLB{p}{571.3}{1914.2}{3}{1933}
\xLB{g}{535.2}{1921.7}{2 dup}{1933}
\xIN{632.2}{893}{1940}
\xPK{823.3}{824.7}{1933}{1947}
\xPK{837}{838.4}{1933}{1947}
\xGN{850.6}{852}{1933}{1947}
\xPK{874.3}{875.7}{1933}{1947}\xGY{875.7}{893}{1933}{1947}
\xLB{b}{851.6}{1866.2}{2}{1933}
\xLB{p}{837}{1875.5}{2}{1933}
\xLB{b}{874.1}{1885.5}{3}{1933}
\xLB{b}{823.7}{1894.2}{1}{1933}\xLB{p}{823.7}{1903.3}{1}{1933}
\xLB{p}{874.1}{1912.2}{3}{1933}
\xLB{g}{852.2}{1921.7}{2 dup}{1933}
% ---------- Row 18
\xTT{1962.3}{ENSP00000360315:gene:ENSG00000143001}
\xIN{24.9}{286}{2049.3}
\xGY{24.9}{33.7}{2042.7}{2056.7}
\xBL{146.8}{155.1}{2042.7}{2056.7}\xPK{146.8}{155.1}{2023.3}{2037.3}
\xPK{276.5}{282.4}{2042.7}{2056.7}\xGY{282.4}{286}{2042.7}{2056.7}\xBL{275.3}{281.2}{2023.3}{2037.3}
\xLB{p}{33.4}{2030.3}{1}{2042.7}
\xLB{p}{150.4}{1991.3}{2}{2023.3}\xLB{b}{150.4}{2010.5}{1}{2023.3}
\xLB{b}{277.6}{1991.3}{2}{2023.3}\xLB{p}{277.6}{2010.5}{3}{2023.3}
\xIN{328.6}{589}{2049.3}
\xPK{336.7}{338.1}{2042.7}{2056.7}
\xGN{391.9}{399.6}{2042.7}{2056.7}
\xBL{454.7}{461.8}{2042.7}{2056.7}\xPK{454.7}{461.8}{2023.3}{2037.3}
\xPK{579}{586}{2042.7}{2056.7}\xGY{586}{589}{2042.7}{2056.7}\xBL{579}{586}{2023.3}{2037.3}
\xLB{p}{336.9}{2010.5}{1}{2042.7}
\xLB{g}{395.7}{2030.3}{2 dup}{2042.7}
\xLB{p}{457.9}{1991.3}{2}{2023.3}\xLB{b}{457.9}{2010.5}{1}{2023.3}
\xLB{b}{582.3}{1991.3}{2}{2023.3}\xLB{p}{582.3}{2010.5}{3}{2023.3}
\xIN{632.2}{893}{2049.3}
\xPK{639.8}{641.2}{2042.7}{2056.7}
\xPK{695.6}{703.3}{2042.7}{2056.7}
\xBL{757.8}{765.5}{2042.7}{2056.7}\xGN{757.8}{765.5}{2023.3}{2037.3}
\xPK{883.3}{889}{2042.7}{2056.7}\xGY{889}{892.1}{2042.7}{2056.7}\xBL{882}{888}{2023.3}{2037.3}
\xLB{p}{639.3}{2030.3}{1}{2042.7}
\xLB{p}{698.6}{2030.3}{2}{2042.7}
\xLB{b}{760.7}{1991.3}{1}{2023.3}\xLB{g}{761.1}{2010.5}{2 dup}{2023.3}
\xLB{b}{885.6}{1991.3}{2}{2023.3}\xLB{p}{885.6}{2010.5}{3}{2023.3}
% ---------- Row 19
\xTT{2076.7}{ENSP00000487094:gene:ENSG00000280778}
\xIN{24.9}{283}{2169}
\xPK{281.5}{284.5}{2157}{2173.3}
\xLB{p}{284.8}{2095.8}{2}{2157}\xLB{b}{284.8}{2106.7}{2}{2157}
\xLB{b}{286.2}{2117.5}{3}{2157}\xLB{p}{286.2}{2128.3}{3}{2157}
\xLB{p}{281.8}{2136.7}{1}{2157}\xLB{b}{282.1}{2148.7}{1}{2157}
\xIN{328.6}{586}{2170}
\xBK{584.5}{587.5}{2160}{2173.3}
\xLB{p}{588.1}{2094.2}{2}{2160}\xLB{b}{588.1}{2104}{2}{2160}
\xLB{b}{589.1}{2114.5}{3}{2160}\xLB{p}{590}{2124}{3}{2160}
\xLB{b}{585.5}{2132.5}{1}{2160}\xLB{p}{585.5}{2142.5}{1}{2160}
\xLB{g}{586.1}{2151.3}{2 dup}{2160}
\xIN{632.2}{891}{2170}
\xBK{889.5}{892.5}{2160}{2173.3}
\xLB{p}{891.2}{2104}{2}{2160}\xLB{b}{891.2}{2095.2}{2}{2160}
\xLB{b}{892.4}{2114.2}{3}{2160}\xLB{p}{892.4}{2124}{3}{2160}
\xLB{p}{890.6}{2130}{1}{2160}\xLB{b}{890.3}{2142.5}{1}{2160}
\xLB{g}{891.8}{2151.3}{2 dup}{2160}
% ---------- Row 20
\xTT{2191.7}{ENSP00000271331:gene:ENSG00000143125}
\xIN{24.9}{286}{2278.3}
\xPK{24.9}{29.6}{2271.7}{2286}\xBL{26.6}{29.6}{2251.7}{2266.7}
\xPK{143.3}{148}{2271.7}{2286}\xBL{143.3}{148}{2251.7}{2266.7}
\xPK{238.6}{242.7}{2271.7}{2286}\xGY{242.7}{286}{2271.7}{2286}\xBL{238.6}{242.7}{2251.7}{2266.7}
\xLB{b}{28.1}{2220.2}{1}{2251.7}\xLB{p}{28.1}{2240.2}{1}{2251.7}
\xLB{b}{145}{2220.2}{2}{2251.7}\xLB{p}{145}{2240.2}{2}{2251.7}
\xLB{b}{240.4}{2220.2}{3}{2251.7}\xLB{p}{240.4}{2240.2}{3}{2251.7}
\xIN{328.6}{589}{2278.3}
\xPK{329.7}{333.3}{2271.7}{2286}\xBL{329.7}{333.3}{2251.7}{2266.7}
\xGN{388.9}{393.7}{2271.7}{2286}
\xPK{449.9}{454.1}{2271.7}{2286}\xBL{449.9}{454.1}{2251.7}{2266.7}
\xPK{542.9}{547.6}{2271.7}{2286}\xGY{547.6}{589}{2271.7}{2286}\xBL{542.9}{547.6}{2251.7}{2266.7}
\xLB{b}{331.5}{2220.2}{1}{2251.7}\xLB{p}{331.5}{2240.2}{1}{2251.7}
\xLB{b}{451}{2220.2}{2}{2251.7}\xLB{p}{451}{2240.2}{2}{2251.7}
\xLB{p}{544.6}{2220.2}{3}{2251.7}\xLB{b}{544.6}{2240.2}{3}{2251.7}
\xLB{g}{391.3}{2259.5}{2 dup}{2271.7}
\xIN{632.2}{893}{2278.3}
\xPK{633.4}{637}{2271.7}{2286}\xBL{633.4}{637}{2251.7}{2266.7}
\xPK{692.6}{696.8}{2271.7}{2286}
\xGN{753}{757.8}{2271.7}{2286}\xBL{753}{757.8}{2251.7}{2266.7}
\xPK{846.6}{852.5}{2271.7}{2286}\xGY{852.5}{893}{2271.7}{2286}\xBL{846.6}{852.5}{2251.7}{2266.7}
\xLB{b}{634.9}{2220.2}{1}{2251.7}\xLB{p}{634.9}{2240.2}{1}{2251.7}
\xLB{b}{754.8}{2220.2}{2}{2251.7}\xLB{g}{755.1}{2240.2}{2 dup}{2251.7}
\xLB{p}{694.1}{2259.5}{2}{2271.7}
\xLB{b}{847.6}{2220.2}{3}{2251.7}\xLB{p}{847.6}{2240.2}{3}{2251.7}
}
\begin{document}
\begin{tikzpicture}[x=1pt,y=-1pt]
\fill[white] (0,0) rectangle (928,2296);
\useasboundingbox (0,0) rectangle (928,2296);
\bgptrue\setcounter{lbc}{0}\setcounter{ttc}{0}\allrows
\bgpfalse\setcounter{lbc}{0}\setcounter{ttc}{0}\allrows
\end{tikzpicture}
\end{document}
